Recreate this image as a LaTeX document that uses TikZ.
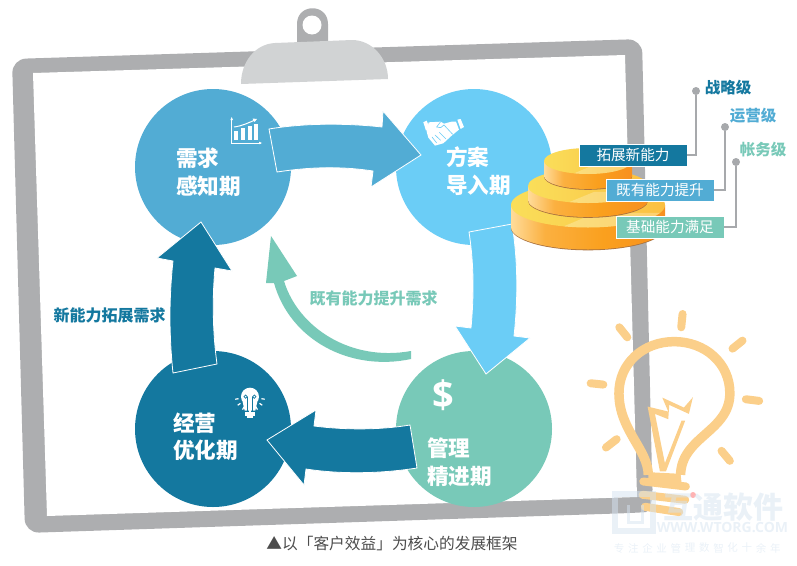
\documentclass[tikz,border=0pt]{standalone}
\usepackage{fontspec}
\setmainfont{Noto Sans CJK SC}
\newfontfamily\latinsans{Open Sans}
\definecolor{framegray}{HTML}{ADAEB0}
\definecolor{clipgray}{HTML}{D1D3D4}
\definecolor{pingray}{HTML}{A7A9AC}
\definecolor{needblue}{HTML}{52ACD4}
\definecolor{planblue}{HTML}{6BCDF6}
\definecolor{mintgreen}{HTML}{78C9B8}
\definecolor{deepblue}{HTML}{14789F}
\definecolor{bulbyellow}{HTML}{FBCF8A}
\definecolor{markblue}{HTML}{D5E3F0}
\definecolor{coinedge}{HTML}{A8713F}
\definecolor{coinorange}{HTML}{F7941E}
\definecolor{coinsoft}{HTML}{FCB048}
\definecolor{coinlight}{HTML}{FFDC9A}
\definecolor{coingold}{HTML}{FBB040}
\definecolor{coinmid}{HTML}{FAA01E}
\definecolor{coindark}{HTML}{F47B20}
\definecolor{faceyellow}{HTML}{F9EC62}
\definecolor{facegold}{HTML}{FAD654}
\definecolor{faceend}{HTML}{FBB034}
\pgfdeclarehorizontalshading{coinside}{100bp}{color(0bp)=(coinorange);color(13bp)=(coinsoft);color(25bp)=(coinlight);color(36bp)=(coingold);color(55bp)=(coinmid);color(100bp)=(coindark)}
\pgfdeclarehorizontalshading{cointop}{100bp}{color(0bp)=(faceyellow);color(40bp)=(facegold);color(100bp)=(faceend)}
\newcommand{\coin}[5]{% centre x, top y, bottom y, rx, ry
    \fill[coinedge] (#1,#3+0.8) ellipse [x radius=#4, y radius=#5];
    \shade[shading=coinside] (#1,#3) ellipse [x radius=#4, y radius=#5];
    \shade[shading=coinside] (#1-#4,#2) rectangle (#1+#4,#3);
    \shade[shading=cointop] (#1,#2) ellipse [x radius=#4, y radius=#5];
    \begin{scope}
    \clip (#1,#2) ellipse [x radius=#4, y radius=#5];
    \fill[white,opacity=0.25] (#1-#4*0.35,#2+#5) -- (#1+#4*0.1,#2+#5*0.35) -- (#1+#4,#2+#5*0.35) -- (#1+#4,#2+#5) -- cycle;
    \end{scope}}
\tikzset{
    stage/.style = {align=left,inner sep=0pt,anchor=west,text=white,font=\bfseries\fontsize{21.6}{27.5}\selectfont},
    level/.style = {inner sep=0pt,font=\bfseries\fontsize{15.5}{15.5}\selectfont},
    ability/.style = {minimum width=108,minimum height=22,inner sep=0pt,text=white,draw=white,line width=0.3,font=\fontsize{14.6}{14.6}\selectfont},
    pin/.style = {circle,fill=pingray,inner sep=0pt,minimum size=8},
    feedback/.style = {inner sep=0pt,font=\bfseries\fontsize{16}{16}\selectfont},
    blockarrow/.style = {draw=white,line width=0.8,line join=miter},
    leader/.style = {draw=pingray,line width=1.5},
    bulbline/.style = {draw=bulbyellow,line cap=round,line width=8}}
\begin{document}
\begin{tikzpicture}[x=1pt,y=-1pt]
    \useasboundingbox (0,0) rectangle (797,565);
    % board
    \fill[framegray,rounded corners=14] (12,59) -- (642,39) -- (652,475) .. controls (653,503) and (648,512) .. (632,513) -- (25,533) -- cycle;
    \fill[white] (33,73) -- (625,55) -- (637,497) -- (47,516) -- cycle;
    \fill[framegray] (297,42) -- (297,24) .. controls (297,3) and (328,3) .. (328,24) -- (328,42) -- cycle;
    \fill[white] (312,25) circle [radius=9.5];
    \fill[clipgray] (241,84) .. controls (241,62) and (255,44) .. (275,43) -- (352,40) .. controls (372,40) and (388,58) .. (388,79) -- cycle;
    % stages
    \path (213,167) node[circle,fill=needblue,minimum size=156,inner sep=0pt] (need) {}
     ++ (261,0) node[circle,fill=planblue,minimum size=156,inner sep=0pt] (plan) {}
     ++ (0,262) node[circle,fill=mintgreen,minimum size=156,inner sep=0pt] (manage) {}
     ++ (-261,0) node[circle,fill=deepblue,minimum size=156,inner sep=0pt] (optimize) {};
    % block arrows
    \filldraw[blockarrow,fill=needblue] (269,129) .. controls (305,123) and (345,123) .. (382,127) -- (383,111) -- (421,155) -- (371,187) -- (373,171) .. controls (340,166) and (310,167) .. (277,172) -- cycle;
    \filldraw[blockarrow,fill=planblue] (469,232) -- (512,224) .. controls (518,260) and (518,300) .. (514,336) -- (530,338) -- (486,374) -- (455,326) -- (471,328) .. controls (474,295) and (474,265) .. cycle;
    \filldraw[blockarrow,fill=deepblue] (410,425) .. controls (380,430) and (345,430) .. (314,426) -- (316,410) -- (267,440) -- (304,485) -- (306,469) .. controls (345,475) and (385,473) .. (417,468) -- cycle;
    \filldraw[blockarrow,fill=deepblue] (173,373) .. controls (169,335) and (169,298) .. (173,261) -- (157,258) -- (201,222) -- (232,271) -- (215,268) .. controls (212,300) and (213,335) .. (217,364) -- cycle;
    \fill[mintgreen] (411,351) .. controls (350,362) and (298,327) .. (284,281) -- (297,276) -- (271,236) -- (266,283) -- (274,283) .. controls (290,340) and (350,372) .. (411,359) -- cycle;
    % texts of the cycle
    \node[stage] (needtext) at (176,172) {需求\\感知期};
    \node[stage] (plantext) at (446,171) {方案\\导入期};
    \node[stage] (managetext) at (427,462) {管理\\精进期};
    \node[stage] (optimizetext) at (173,437) {经营\\优化期};
    \node[feedback,text=deepblue] (newneed) at (109.5,315) {新能力拓展需求};
    \node[feedback,text=mintgreen] (oldneed) at (373.5,298) {既有能力提升需求};
    % chart icon
    \draw[white,line width=0.8] (231.7,118) -- (231.7,143) -- (261,143);
    \fill[white] (230.4,120) -- (231.7,117) -- (233,120) -- cycle (259,141.7) -- (262,143) -- (259,144.3) -- cycle;
    \foreach \barx/\bary in {234/131,241/128,248/126,254/124}
        \fill[white] (\barx,\bary) rectangle (\barx+4,140);
    \draw[white,line width=1] (234,127) .. controls (242,126) and (248,123) .. (255,120);
    \fill[white] (252.5,118.5) -- (257,119) -- (254.5,122) -- cycle;
    % handshake icon
    \begin{scope}[shift={(420,115)},x=0.333pt,y=-0.333pt]
    \fill[white] (10,22) -- (20,17) -- (30,42) -- (18,47) -- cycle (112,14) -- (122,12) -- (132,36) -- (122,42) -- cycle;
    \fill[white] (26,22) -- (62,20) -- (72,26) -- (95,20) -- (108,20) -- (117,44) -- (95,62) -- (70,85) -- (45,92) -- (25,68) -- (20,50) -- cycle;
    \draw[planblue,line width=0.6] (62,20) -- (50,36) -- (62,38) -- (72,30) -- (98,58) (45,60) -- (62,76) (36,66) -- (50,84) (58,52) -- (78,72);
    \end{scope}
    % dollar
    \node[inner sep=0pt,text=white,font=\latinsans\bfseries\fontsize{38}{38}\selectfont] (dollar) at (443,395) {\$};
    % small bulb icon
    \begin{scope}[shift={(230,380)},x=0.333pt,y=-0.333pt]
    \fill[white] (60,50) circle [radius=27];
    \fill[white] (38,66) -- (82,66) -- (76,92) -- (44,92) -- cycle;
    \draw[deepblue,line width=0.7] (52,92) -- (52,50) (68,92) -- (68,50);
    \draw[deepblue,line width=0.7] (47,50) circle [radius=5] (73,50) circle [radius=5];
    \draw[white,line width=2] (46,98) -- (74,98) (46,104) -- (74,104) (50,110) -- (70,110);
    \foreach \rayangle in {170,145,120,90,60,35,10}
        \draw[white,line width=1.2] (60,50) ++(\rayangle:35) -- ++(\rayangle:10);
    \end{scope}
    % coins
    \coin{588}{205}{227}{77}{22.5}
    \coin{588}{186}{200}{60}{17}
    \coin{588}{161}{176}{44}{13}
    % ability levels
    \node[ability,fill=deepblue] (newability) at (633,155) {拓展新能力};
    \node[ability,fill=needblue] (raiseability) at (660,190) {既有能力提升};
    \node[ability,fill=mintgreen] (baseability) at (670,227) {基础能力满足};
    \node[pin] (strategypin) at (696,91) {};
    \node[pin] (operatepin) at (725,127) {};
    \node[pin] (accountpin) at (736,162) {};
    \draw[leader] (newability) -| (strategypin);
    \draw[leader] (raiseability) -| (operatepin);
    \draw[leader] (baseability) -| (accountpin);
    \node[level,text=deepblue] (strategy) at (728,88) {战略级};
    \node[level,text=needblue] (operate) at (753,116) {运营级};
    \node[level,text=mintgreen] (account) at (763,150) {帐务级};
    % big bulb
    \begin{scope}[shift={(580,300)},x=0.333pt,y=-0.333pt]
    \foreach \rayax/\rayay/\raybx/\rayby in {118/82/142/112,308/42/304/82,488/122/458/146,498/298/538/303,425/453/450/483,110/418/78/443,32/250/70/254}
        \draw[bulbline] (\rayax,\rayay) -- (\raybx,\rayby);
    \draw[bulbline,line cap=butt,line width=9.5] (205,525) .. controls (205,450) and (117,390) .. (117,280) .. controls (117,190) and (190,125) .. (283,125) .. controls (376,125) and (450,190) .. (450,280) .. controls (450,395) and (305,410) .. (302,525);
    \fill[bulbyellow] (203,320) -- (265,335) -- (247,293) -- (312,323) -- (339,292) -- (327,342) -- (268,315) -- (265,358) -- (225,342) -- (255,490) -- (305,362) -- (316,362) -- (258,515) -- (240,515) -- cycle;
    \fill[bulbyellow] (205,517) -- (302,522) -- (305,550) -- (205,545) -- cycle;
    \draw[bulbline] (190,545) -- (318,560);
    \draw[bulbline] (188,585) -- (316,600);
    \draw[bulbline] (195,621) -- (298,637);
    \end{scope}
    % watermark
    \begin{scope}[opacity=0.5]
    \draw[markblue,line width=6] (615,494) rectangle (653,531);
    \draw[markblue,line width=3] (628,505) -- (628,522) -- (642,522) -- (642,505);
    \fill[red!60!white] (693,495) circle [radius=3];
    \node[inner sep=0pt,text=markblue,font=\bfseries\fontsize{30}{30}\selectfont] (markname) at (723,507) {互通软件};
    \node[inner sep=0pt,text=markblue,font=\latinsans\bfseries\fontsize{14}{14}\selectfont] (markweb) at (722.5,528) {WWW.WTORG.COM};
    \foreach \markchar [count=\marknum] in {专,注,企,业,管,理,数,智,化,十,余,年}
        \node[inner sep=0pt,text=markblue,font=\fontsize{10.5}{10.5}\selectfont] (mark\marknum) at (612+14.2*\marknum-7.1,548) {\markchar};
    \end{scope}
    % caption
    \node[inner sep=0pt,text=black!70,font=\fontsize{15.7}{15.7}\selectfont] (caption) at (392,544) {▲以「客户效益」为核心的发展框架};
\end{tikzpicture}
\end{document}
